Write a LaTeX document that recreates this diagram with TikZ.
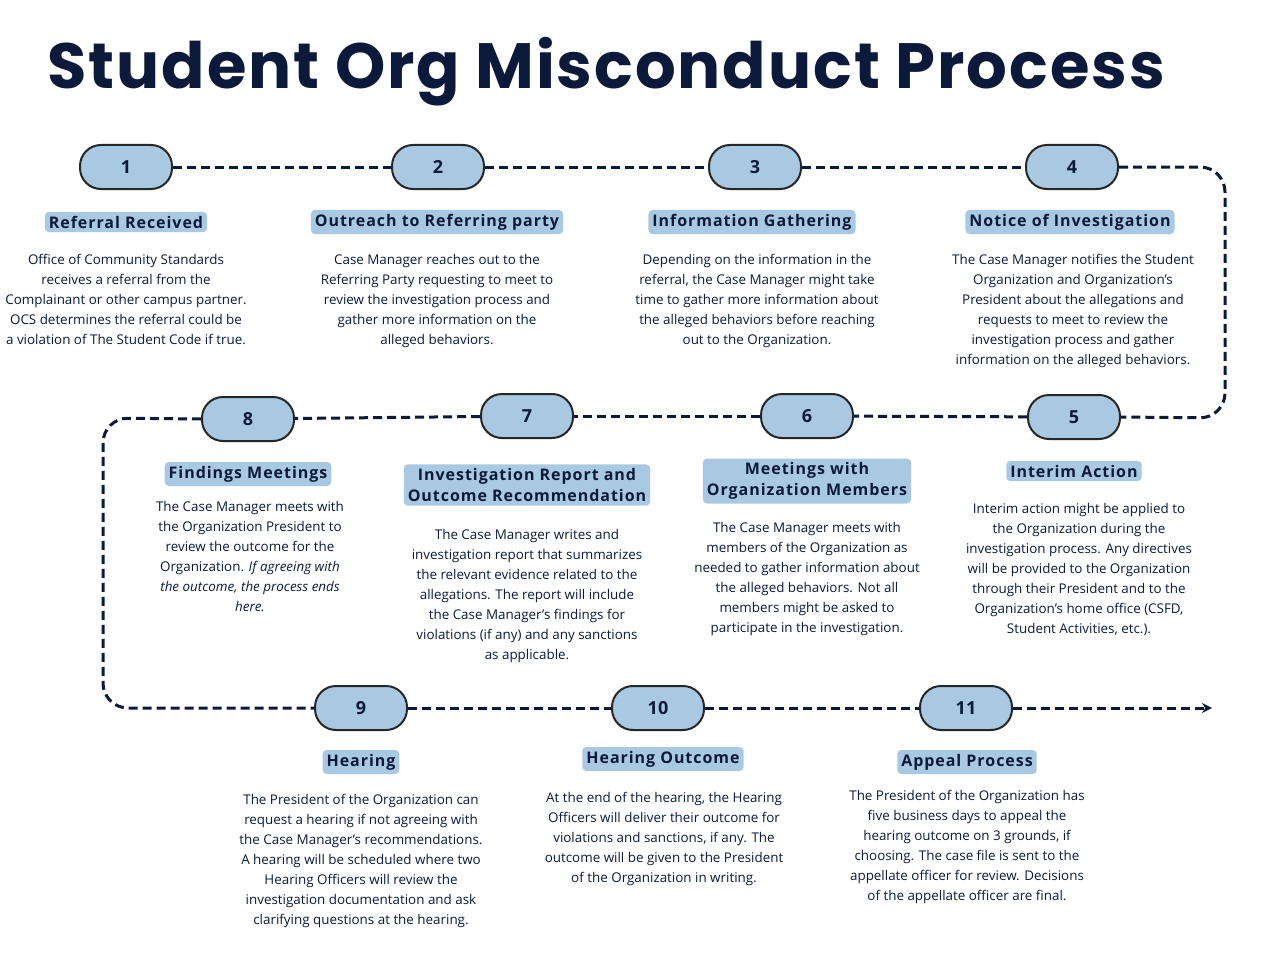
\documentclass[tikz,border=0pt]{standalone}
\usepackage{fontspec}
\setmainfont{Open Sans}
\newfontfamily\titlefont[LetterSpace=3]{Poppins}
\newfontfamily\labfont[LetterSpace=6]{Open Sans}
\usetikzlibrary{arrows.meta}
\definecolor{navy}{HTML}{0B1A3A}
\definecolor{pill}{HTML}{A9C9E3}
\definecolor{lab}{HTML}{A9C9E3}
\begin{document}
\begin{tikzpicture}[x=1pt,y=-1pt,
  pill/.style={draw=black!85,line width=2pt,fill=pill,rounded corners=21pt,minimum width=92pt,minimum height=44pt,inner sep=0pt,font=\fontsize{18}{18}\selectfont\bfseries,text=navy},
  lab/.style={fill=lab,rounded corners=4pt,inner sep=4pt,font=\labfont\fontsize{16}{21}\selectfont\bfseries,text=navy,align=center},
  body/.style={font=\fontsize{13.4}{20}\selectfont,text=navy,align=center,anchor=north,inner sep=0pt},
  conn/.style={navy,line width=3pt,dash pattern=on 9pt off 5pt}]
\useasboundingbox (0,0) rectangle (1277,955);
\node[anchor=west,text=navy,font=\titlefont\fontsize{64}{64}\selectfont\bfseries] (title) at (44,72) {Student Org Misconduct Process};
% pills
\node[pill] (p1) at (126,167) {1};
\node[pill] (p2) at (438,167) {2};
\node[pill] (p3) at (755,167) {3};
\node[pill] (p4) at (1072,167) {4};
\node[pill] (p5) at (1074,417) {5};
\node[pill] (p6) at (807,416) {6};
\node[pill] (p7) at (527,416) {7};
\node[pill] (p8) at (248,419) {8};
\node[pill] (p9) at (361,708) {9};
\node[pill] (p10) at (658,708) {10};
\node[pill] (p11) at (966,708) {11};
\coordinate (tr) at (1225,167);
\coordinate (br) at (1225,418);
\coordinate (tl) at (103,418);
\coordinate (bl) at (103,708);
\coordinate (end) at (1212,708);
% connectors
\draw[conn] (p1) -- (p2); \draw[conn] (p2) -- (p3); \draw[conn] (p3) -- (p4);
\draw[conn,rounded corners=25pt] (p4.east) -- (tr) -- (br) -- (p5.east);
\draw[conn] (p5) -- (p6); \draw[conn] (p6) -- (p7); \draw[conn] (p7) -- (p8);
\draw[conn,rounded corners=25pt] (p8.west) -- (tl) -- (bl) -- (p9.west);
\draw[conn] (p9) -- (p10); \draw[conn] (p10) -- (p11);
\draw[conn,-{Stealth[length=10pt,width=10pt]}] (p11.east) -- (end);
% labels
\node[lab] (l1) at (126,222) {Referral Received};
\node[lab] (l2) at (437,222) {Outreach to Referring party};
\node[lab] (l3) at (752,222) {Information Gathering};
\node[lab] (l4) at (1070,222) {Notice of Investigation};
\node[lab] (l8) at (248,474) {Findings Meetings};
\node[lab] (l7) at (527,485) {Investigation Report and\\Outcome Recommendation};
\node[lab] (l6) at (807,481) {Meetings with\\Organization Members};
\node[lab] (l5) at (1074,471) {Interim Action};
\node[lab] (l9) at (361,762) {Hearing};
\node[lab] (l10) at (663,759) {Hearing Outcome};
\node[lab] (l11) at (967,762) {Appeal Process};
% bodies
\node[body] (b1) at (126,254) {Office of Community Standards\\receives a referral from the\\Complainant or other campus partner.\\OCS determines the referral could be\\a violation of The Student Code if true.};
\node[body] (b2) at (437,254) {Case Manager reaches out to the\\Referring Party requesting to meet to\\review the investigation process and\\gather more information on the\\alleged behaviors.};
\node[body] (b3) at (757,254) {Depending on the information in the\\referral, the Case Manager might take\\time to gather more information about\\the alleged behaviors before reaching\\out to the Organization.};
\node[body] (b4) at (1073,254) {The Case Manager notifies the Student\\Organization and Organization's\\President about the allegations and\\requests to meet to review the\\investigation process and gather\\information on the alleged behaviors.};
\node[body] (b8) at (250,501) {The Case Manager meets with\\the Organization President to\\review the outcome for the\\Organization. \textit{If agreeing with}\\\textit{the outcome, the process ends}\\\textit{here.}};
\node[body] (b7) at (527,529) {The Case Manager writes and\\investigation report that summarizes\\the relevant evidence related to the\\allegations. The report will include\\the Case Manager's findings for\\violations (if any) and any sanctions\\as applicable.};
\node[body] (b6) at (807,522) {The Case Manager meets with\\members of the Organization as\\needed to gather information about\\the alleged behaviors. Not all\\members might be asked to\\participate in the investigation.};
\node[body] (b5) at (1079,503) {Interim action might be applied to\\the Organization during the\\investigation process. Any directives\\will be provided to the Organization\\through their President and to the\\Organization's home office (CSFD,\\Student Activities, etc.).};
\node[body] (b9) at (361,794) {The President of the Organization can\\request a hearing if not agreeing with\\the Case Manager's recommendations.\\A hearing will be scheduled where two\\Hearing Officers will review the\\investigation documentation and ask\\clarifying questions at the hearing.};
\node[body] (b10) at (664,792) {At the end of the hearing, the Hearing\\Officers will deliver their outcome for\\violations and sanctions, if any. The\\outcome will be given to the President\\of the Organization in writing.};
\node[body] (b11) at (967,790) {The President of the Organization has\\five business days to appeal the\\hearing outcome on 3 grounds, if\\choosing. The case file is sent to the\\appellate officer for review. Decisions\\of the appellate officer are final.};
\end{tikzpicture}
\end{document}
